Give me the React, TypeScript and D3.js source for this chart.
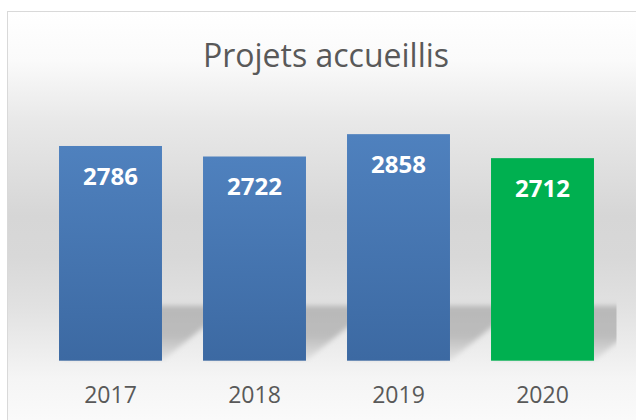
import React from "react";
import * as d3 from "d3";

const years = ["2017", "2018", "2019", "2020"];
const projets = [2786, 2722, 2858, 2712];
const barColors = ["blue", "blue", "blue", "green"];
const title = "Projets accueillis";

const W = 636;
const H = 420;
const FONT = "'Open Sans', 'Noto Sans', sans-serif";

export default function App() {
  const x = d3
    .scaleBand<string>()
    .domain(years)
    .range([38.5, 614.5])
    .paddingInner(0.285)
    .paddingOuter(0.1425);

  const y = d3.scaleLinear().domain([1480, 3000]).range([360.7, 110.8]);
  const base = y(1480);
  const shadowTop = base - 55;
  const shadowShift = 68;

  const data = years.map((yr, i) => ({ yr, v: projets[i], c: barColors[i] }));

  return (
    <svg
      width={W}
      height={H}
      style={{ position: "absolute", left: 0, top: 0, display: "block" }}
    >
      <defs>
        <linearGradient id="bg" gradientUnits="userSpaceOnUse" x1="0" y1="12" x2="0" y2="420">
          <stop offset="0" stopColor="#ffffff" />
          <stop offset="0.12" stopColor="#fafafa" />
          <stop offset="0.27" stopColor="#e8e8e8" />
          <stop offset="0.5" stopColor="#d6d6d6" />
          <stop offset="0.6" stopColor="#d8d8d8" />
          <stop offset="0.72" stopColor="#e1e1e1" />
          <stop offset="0.82" stopColor="#ececec" />
          <stop offset="0.9" stopColor="#f5f5f5" />
          <stop offset="1" stopColor="#fafafa" />
        </linearGradient>
        <linearGradient id="blueBar" x1="0" y1="0" x2="0" y2="1">
          <stop offset="0" stopColor="#4f81be" />
          <stop offset="1" stopColor="#3c69a2" />
        </linearGradient>
        <linearGradient id="shadowFill" gradientUnits="userSpaceOnUse" x1="0" y1={shadowTop} x2="0" y2={base}>
          <stop offset="0" stopColor="#b8b8b8" />
          <stop offset="0.55" stopColor="#bcbcbc" />
          <stop offset="1" stopColor="#e4e4e4" />
        </linearGradient>
        <filter id="blur" x="-20%" y="-30%" width="140%" height="160%">
          <feGaussianBlur stdDeviation="2.5" />
        </filter>
        <clipPath id="plotClip">
          <rect x={x.range()[0]} y={0} width={x.range()[1] - x.range()[0] + 2} height={base + 2} />
        </clipPath>
      </defs>

      <rect x={7.5} y={11.5} width={W} height={H} fill="url(#bg)" stroke="#d9d9d9" strokeWidth={1} />

      <text
        x={326}
        y={67}
        textAnchor="middle"
        fontFamily={FONT}
        fontSize={32}
        fill="#595959"
      >
        {title}
      </text>

      <g clipPath="url(#plotClip)">
        {data.map((d) => {
          const x0 = x(d.yr)!;
          const x1 = x0 + x.bandwidth();
          const pts = [
            [x0, base],
            [x1, base],
            [x1 + shadowShift, shadowTop],
            [x0 + shadowShift, shadowTop],
          ];
          return (
            <polygon
              key={"s" + d.yr}
              points={pts.map((p) => p.join(",")).join(" ")}
              fill="url(#shadowFill)"
              filter="url(#blur)"
            />
          );
        })}
      </g>

      {data.map((d) => (
        <g key={d.yr}>
          <rect
            x={x(d.yr)}
            y={y(d.v)}
            width={x.bandwidth()}
            height={base - y(d.v)}
            fill={d.c === "green" ? "#00b050" : "url(#blueBar)"}
          />
          <text
            x={x(d.yr)! + x.bandwidth() / 2}
            y={y(d.v) + 38.7}
            textAnchor="middle"
            fontFamily={FONT}
            fontWeight={700}
            fontSize={24}
            fill="#ffffff"
          >
            {d.v}
          </text>
          <text
            x={x(d.yr)! + x.bandwidth() / 2}
            y={403}
            textAnchor="middle"
            fontFamily={FONT}
            fontSize={23}
            fill="#595959"
          >
            {d.yr}
          </text>
        </g>
      ))}
    </svg>
  );
}
